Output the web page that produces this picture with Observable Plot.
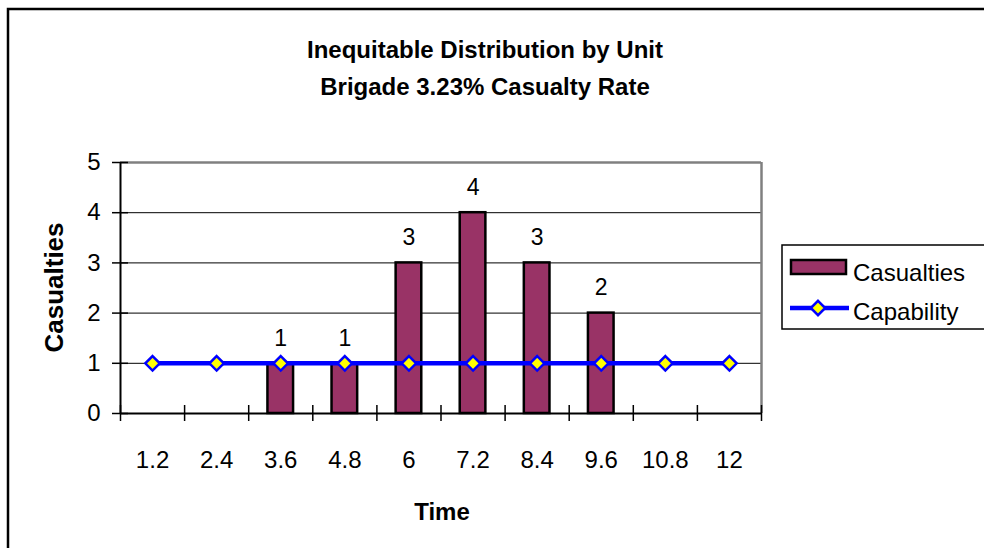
<!DOCTYPE html>
<html>
<head>
<meta charset="utf-8">
<script src="https://cdn.jsdelivr.net/npm/d3@7"></script>
<script src="https://cdn.jsdelivr.net/npm/@observablehq/plot@0.6"></script>
<style>
  html, body { margin: 0; padding: 0; background: #fff; }
  #wrap { position: relative; width: 984px; height: 548px; overflow: hidden; font-family: "Liberation Sans", Arial, sans-serif; }
  #wrap > svg { position: absolute; left: 0; top: 0; }
  #overlay { pointer-events: none; }
</style>
</head>
<body>
<div id="wrap"></div>
<script>
// ---- data ----
const times = [1.2, 2.4, 3.6, 4.8, 6, 7.2, 8.4, 9.6, 10.8, 12];
const timeLabels = ["1.2", "2.4", "3.6", "4.8", "6", "7.2", "8.4", "9.6", "10.8", "12"];
const casualties = [null, null, 1, 1, 3, 4, 3, 2, null, null];
const capability = [1, 1, 1, 1, 1, 1, 1, 1, 1, 1];
const yTicks = [0, 1, 2, 3, 4, 5];
const yTickLabels = ["0", "1", "2", "3", "4", "5"];
const titleLines = ["Inequitable Distribution by Unit", "Brigade 3.23% Casualty Rate"];
const seriesNames = ["Casualties", "Capability"];

// ---- derived tables ----
const step = times[1] - times[0];
const barData = times.map((t, i) => ({time: t, value: casualties[i]})).filter(d => d.value != null);
const capData = times.map((t, i) => ({time: t, value: capability[i]}));
const boundaries = times.map(t => t - step / 2).concat([times[times.length - 1] + step / 2]);
const halfBar = step * 0.2;

const font = "'Liberation Sans', Arial, sans-serif";
const markerR = 6.5;

const chart = Plot.plot({
  width: 984,
  height: 548,
  marginLeft: 120,
  marginRight: 223,
  marginTop: 162,
  marginBottom: 135,
  style: {fontFamily: font, background: "transparent", overflow: "visible"},
  x: {type: "linear", domain: [boundaries[0], boundaries[boundaries.length - 1]], axis: null},
  y: {domain: [0, 5], axis: null},
  marks: [
    Plot.ruleY([1, 2, 3, 4], {stroke: "black", strokeWidth: 1}),
    Plot.ruleY([5], {stroke: "#808080", strokeWidth: 2.5}),
    Plot.ruleX([boundaries[boundaries.length - 1]], {stroke: "#808080", strokeWidth: 2.5}),
    Plot.rectY(barData, {
      x1: d => d.time - halfBar,
      x2: d => d.time + halfBar,
      y1: 0,
      y2: "value",
      fill: "#993366",
      stroke: "black",
      strokeWidth: 2.5
    }),
    Plot.ruleX([boundaries[0]], {stroke: "black", strokeWidth: 2}),
    Plot.ruleY([0], {stroke: "black", strokeWidth: 2}),
    Plot.axisY({
      anchor: "left",
      ticks: yTicks,
      tickSize: 16,
      dx: 8,
      tickPadding: 12,
      fontSize: 24,
      stroke: "black",
      strokeWidth: 1.5,
      fill: "black",
      tickFormat: d => yTickLabels[yTicks.indexOf(d)],
      label: null
    }),
    Plot.axisX({
      anchor: "bottom",
      ticks: boundaries,
      tickSize: 16,
      dy: -8,
      tickFormat: () => "",
      stroke: "black",
      strokeWidth: 1.5,
      label: null
    }),
    Plot.axisX({
      anchor: "bottom",
      ticks: times,
      tickSize: 0,
      tickPadding: 37,
      fontSize: 24,
      fill: "black",
      tickFormat: d => timeLabels[times.indexOf(d)],
      label: null
    }),
    Plot.line(capData, {x: "time", y: "value", stroke: "#0000FF", strokeWidth: 4.5}),
    Plot.dot(capData, {x: "time", y: "value", symbol: "diamond2", r: markerR, fill: "#FFFF00", stroke: "#0000FF", strokeWidth: 2.5}),
    Plot.text(barData, {x: "time", y: "value", text: d => String(d.value), dy: -25, fontSize: 23, fill: "black"})
  ]
});

const wrap = document.getElementById("wrap");
wrap.appendChild(chart);

// ---- decorations: border, titles, legend ----
const ov = d3.select(wrap).append("svg")
  .attr("id", "overlay")
  .attr("width", 984).attr("height", 548)
  .style("font-family", font);

ov.append("rect").attr("x", 8).attr("y", 9).attr("width", 1200).attr("height", 1200)
  .attr("fill", "none").attr("stroke", "black").attr("stroke-width", 2.5);

ov.selectAll("text.title").data(titleLines).join("text")
  .attr("class", "title")
  .attr("x", 485).attr("y", (d, i) => 58 + i * 37)
  .attr("text-anchor", "middle")
  .attr("font-size", 24).attr("font-weight", "bold")
  .text(d => d);

ov.append("text")
  .attr("transform", "translate(63,287.5) rotate(-90)")
  .attr("text-anchor", "middle")
  .attr("font-size", 26).attr("font-weight", "bold")
  .text("Casualties");

ov.append("text")
  .attr("x", 442).attr("y", 520)
  .attr("text-anchor", "middle")
  .attr("font-size", 24).attr("font-weight", "bold")
  .text("Time");

// legend
const lg = ov.append("g");
lg.append("rect").attr("x", 782).attr("y", 245).attr("width", 400).attr("height", 84)
  .attr("fill", "white").attr("stroke", "black").attr("stroke-width", 1.5);
lg.append("rect").attr("x", 791).attr("y", 260).attr("width", 55).attr("height", 14)
  .attr("fill", "#993366").attr("stroke", "black").attr("stroke-width", 2.5);
lg.append("line").attr("x1", 790).attr("x2", 849).attr("y1", 308).attr("y2", 308)
  .attr("stroke", "#0000FF").attr("stroke-width", 4.5);
lg.append("path").attr("transform", "translate(818,308)")
  .attr("d", d3.symbol(d3.symbolDiamond2, Math.PI * markerR * markerR)())
  .attr("fill", "#FFFF00").attr("stroke", "#0000FF").attr("stroke-width", 2.5);
lg.selectAll("text.lg").data(seriesNames).join("text")
  .attr("class", "lg")
  .attr("x", 853).attr("y", (d, i) => 281 + i * 39)
  .attr("font-size", 24)
  .text(d => d);
</script>
</body>
</html>
